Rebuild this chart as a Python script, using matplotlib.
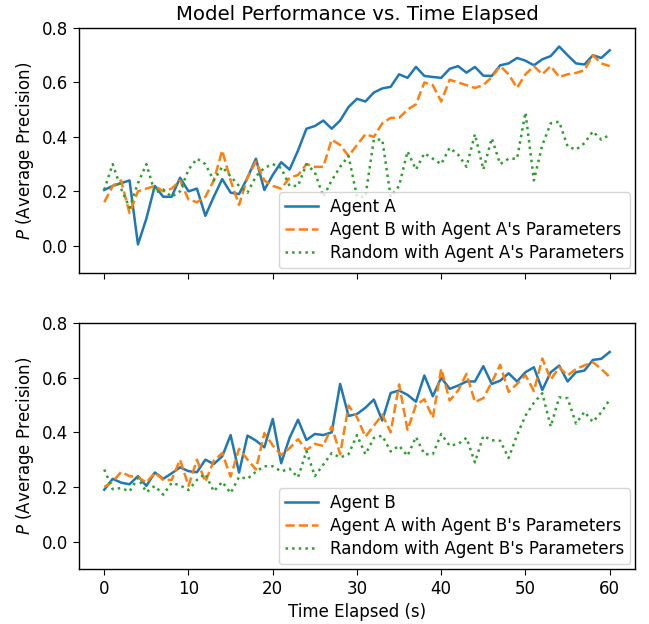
import numpy as np
import matplotlib
matplotlib.use("Agg")
import matplotlib.pyplot as plt

time_s = list(range(61))

agent_a = [0.205, 0.22, 0.23, 0.24, 0.005, 0.10, 0.22, 0.18, 0.18, 0.25,
           0.20, 0.21, 0.11, 0.18, 0.245, 0.195, 0.19, 0.25, 0.32, 0.205,
           0.26, 0.307, 0.28, 0.35, 0.43, 0.44, 0.46, 0.43, 0.46, 0.51,
           0.54, 0.53, 0.563, 0.578, 0.584, 0.63, 0.617, 0.657, 0.624, 0.62,
           0.617, 0.65, 0.66, 0.636, 0.657, 0.625, 0.624, 0.663, 0.67, 0.69,
           0.68, 0.663, 0.685, 0.697, 0.732, 0.70, 0.67, 0.666, 0.70, 0.69, 0.718]
b_with_a = [0.16, 0.22, 0.24, 0.12, 0.20, 0.21, 0.22, 0.20, 0.21, 0.24,
            0.17, 0.16, 0.18, 0.24, 0.35, 0.24, 0.15, 0.25, 0.31, 0.24,
            0.22, 0.21, 0.25, 0.26, 0.30, 0.29, 0.29, 0.39, 0.37, 0.33,
            0.37, 0.41, 0.40, 0.45, 0.47, 0.47, 0.50, 0.52, 0.60, 0.59,
            0.53, 0.61, 0.60, 0.59, 0.58, 0.59, 0.62, 0.66, 0.63, 0.58,
            0.63, 0.66, 0.63, 0.66, 0.62, 0.63, 0.635, 0.645, 0.70, 0.67, 0.66]
rand_with_a = [0.206, 0.30, 0.21, 0.14, 0.23, 0.30, 0.195, 0.207, 0.18, 0.20,
               0.28, 0.32, 0.30, 0.24, 0.29, 0.255, 0.22, 0.195, 0.255, 0.286,
               0.30, 0.286, 0.22, 0.22, 0.30, 0.27, 0.18, 0.24, 0.29, 0.33,
               0.18, 0.18, 0.39, 0.39, 0.18, 0.22, 0.347, 0.28, 0.34, 0.32,
               0.30, 0.36, 0.335, 0.29, 0.41, 0.28, 0.395, 0.30, 0.32, 0.32,
               0.49, 0.24, 0.37, 0.45, 0.456, 0.365, 0.353, 0.377, 0.42, 0.39, 0.408]

agent_b = [0.19, 0.23, 0.216, 0.21, 0.24, 0.204, 0.253, 0.23, 0.25, 0.272,
           0.258, 0.254, 0.30, 0.284, 0.312, 0.39, 0.253, 0.388, 0.37, 0.345,
           0.449, 0.287, 0.38, 0.446, 0.372, 0.394, 0.39, 0.40, 0.577, 0.46,
           0.467, 0.49, 0.52, 0.443, 0.544, 0.553, 0.537, 0.512, 0.608, 0.532,
           0.60, 0.559, 0.571, 0.586, 0.586, 0.642, 0.577, 0.589, 0.616, 0.586,
           0.62, 0.638, 0.555, 0.62, 0.644, 0.586, 0.62, 0.626, 0.665, 0.669, 0.694]
a_with_b = [0.20, 0.22, 0.255, 0.24, 0.236, 0.216, 0.253, 0.226, 0.226, 0.30,
            0.204, 0.30, 0.219, 0.296, 0.324, 0.238, 0.34, 0.30, 0.264, 0.397,
            0.352, 0.317, 0.342, 0.375, 0.335, 0.358, 0.35, 0.422, 0.32, 0.498,
            0.455, 0.384, 0.424, 0.465, 0.40, 0.575, 0.409, 0.50, 0.521, 0.453,
            0.633, 0.516, 0.553, 0.614, 0.511, 0.525, 0.583, 0.647, 0.548, 0.577,
            0.609, 0.551, 0.67, 0.593, 0.638, 0.608, 0.632, 0.645, 0.657, 0.632, 0.602]
rand_with_b = [0.264, 0.192, 0.196, 0.184, 0.234, 0.181, 0.204, 0.172, 0.215, 0.206,
               0.189, 0.226, 0.248, 0.184, 0.219, 0.178, 0.237, 0.23, 0.256, 0.276,
               0.276, 0.257, 0.267, 0.235, 0.331, 0.24, 0.282, 0.324, 0.308, 0.32,
               0.39, 0.32, 0.379, 0.388, 0.33, 0.351, 0.314, 0.383, 0.32, 0.32,
               0.394, 0.351, 0.357, 0.38, 0.29, 0.387, 0.371, 0.369, 0.306, 0.39,
               0.461, 0.508, 0.543, 0.421, 0.528, 0.525, 0.432, 0.475, 0.438, 0.473, 0.52]

labels_top = ["Agent A", "Agent B with Agent A's Parameters", "Random with Agent A's Parameters"]
labels_bot = ["Agent B", "Agent A with Agent B's Parameters", "Random with Agent B's Parameters"]

plt.rcParams['font.family'] = ['DejaVu Sans']
plt.rcParams['font.size'] = 12
plt.rcParams['xtick.major.size'] = 4.2
plt.rcParams['ytick.major.size'] = 4.2
plt.rcParams['axes.linewidth'] = 1.0

fig = plt.figure(figsize=(6.49, 6.24), dpi=100)
ax1 = fig.add_axes([0.1217, 0.5625, 0.8567, 0.3926])
ax2 = fig.add_axes([0.1217, 0.0881, 0.8567, 0.3943], sharex=ax1)

styles = ['-', '--', ':']
colors = ['#1f77b4', '#ff7f0e', '#2ca02c']

for ax, series, labels in [(ax1, [agent_a, b_with_a, rand_with_a], labels_top),
                           (ax2, [agent_b, a_with_b, rand_with_b], labels_bot)]:
    for s, ls, c, lab in zip(series, styles, colors, labels):
        ax.plot(time_s, s, linestyle=ls, color=c, linewidth=1.8, label=lab)
    ax.set_ylim(-0.1, 0.8)
    ax.set_yticks([0.0, 0.2, 0.4, 0.6, 0.8])
    ax.set_ylabel("$P$ (Average Precision)")
    ax.legend(loc='lower right', labelspacing=0.3, borderpad=0.35,
              borderaxespad=0.3, handletextpad=0.7)

ax1.set_xticks([0, 10, 20, 30, 40, 50, 60])
plt.setp(ax1.get_xticklabels(), visible=False)
ax1.set_title("Model Performance vs. Time Elapsed", fontsize=14.2)
ax2.set_xlabel("Time Elapsed (s)")

fig.savefig("out.png", dpi=100)
